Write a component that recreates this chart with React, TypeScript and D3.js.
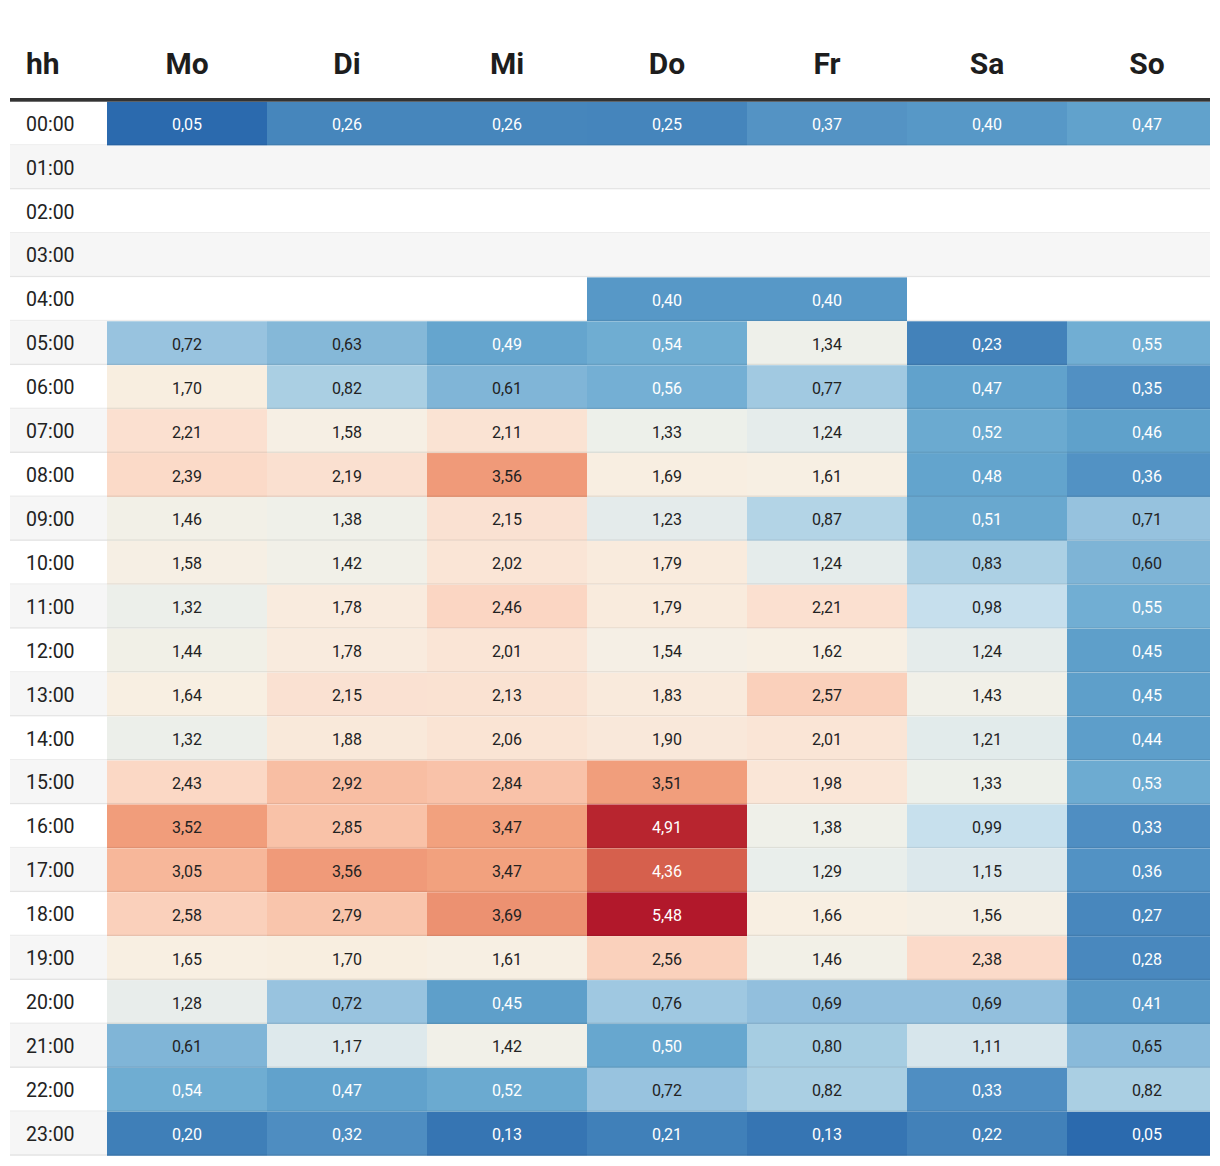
import React from "react";
import * as d3 from "d3";

const days = ["Mo", "Di", "Mi", "Do", "Fr", "Sa", "So"];
const hours = d3.range(24).map((h) => String(h).padStart(2, "0") + ":00");

const values: (number | null)[][] = [
  [0.05, 0.26, 0.26, 0.25, 0.37, 0.4, 0.47],
  [null, null, null, null, null, null, null],
  [null, null, null, null, null, null, null],
  [null, null, null, null, null, null, null],
  [null, null, null, 0.4, 0.4, null, null],
  [0.72, 0.63, 0.49, 0.54, 1.34, 0.23, 0.55],
  [1.7, 0.82, 0.61, 0.56, 0.77, 0.47, 0.35],
  [2.21, 1.58, 2.11, 1.33, 1.24, 0.52, 0.46],
  [2.39, 2.19, 3.56, 1.69, 1.61, 0.48, 0.36],
  [1.46, 1.38, 2.15, 1.23, 0.87, 0.51, 0.71],
  [1.58, 1.42, 2.02, 1.79, 1.24, 0.83, 0.6],
  [1.32, 1.78, 2.46, 1.79, 2.21, 0.98, 0.55],
  [1.44, 1.78, 2.01, 1.54, 1.62, 1.24, 0.45],
  [1.64, 2.15, 2.13, 1.83, 2.57, 1.43, 0.45],
  [1.32, 1.88, 2.06, 1.9, 2.01, 1.21, 0.44],
  [2.43, 2.92, 2.84, 3.51, 1.98, 1.33, 0.53],
  [3.52, 2.85, 3.47, 4.91, 1.38, 0.99, 0.33],
  [3.05, 3.56, 3.47, 4.36, 1.29, 1.15, 0.36],
  [2.58, 2.79, 3.69, 5.48, 1.66, 1.56, 0.27],
  [1.65, 1.7, 1.61, 2.56, 1.46, 2.38, 0.28],
  [1.28, 0.72, 0.45, 0.76, 0.69, 0.69, 0.41],
  [0.61, 1.17, 1.42, 0.5, 0.8, 1.11, 0.65],
  [0.54, 0.47, 0.52, 0.72, 0.82, 0.33, 0.82],
  [0.2, 0.32, 0.13, 0.21, 0.13, 0.22, 0.05],
];

const colorStops = [0.05, 0.2, 0.35, 0.46, 0.55, 0.63, 0.72, 0.82, 0.98, 1.15, 1.34, 1.65, 2.35, 3.45, 4.36, 4.9, 5.48];
const colorRange = [
  "#2b6aae",
  "#3f7fb8",
  "#5190c3",
  "#5fa1cb",
  "#71aed3",
  "#85b8d8",
  "#98c3df",
  "#aacfe3",
  "#c6dfed",
  "#dce8ec",
  "#eef0ea",
  "#f8efe2",
  "#fbdccb",
  "#f3a27f",
  "#d6604d",
  "#b8252f",
  "#b2182b",
];

const color = d3
  .scaleLinear<string>()
  .domain(colorStops)
  .range(colorRange)
  .interpolate(d3.interpolateLab)
  .clamp(true);

const fmt = (v: number) => v.toFixed(2).replace(".", ",");

export default function App() {
  const W = 1220;
  const H = 1166;
  const left = 10;
  const right = 1210;
  const top = 101.7;
  const rowH = 43.92;
  const x = d3.scaleBand<string>().domain(days).range([107, 1227]);
  const y = d3.scaleBand<string>().domain(hours).range([top, top + rowH * 24]);
  const font = "Roboto, 'Noto Sans', sans-serif";

  return (
    <svg
      width={W}
      height={H}
      style={{ position: "absolute", left: 0, top: 0, background: "#fff" }}
      fontFamily={font}
    >
      <defs>
        <clipPath id="tbl">
          <rect x={left} y={0} width={right - left} height={H} />
        </clipPath>
      </defs>
      {/* header */}
      <text x={26} y={74} fontSize={30} fontWeight={700} fill="#1d1d1d">
        hh
      </text>
      {days.map((d) => (
        <text
          key={d}
          x={x(d)! + x.bandwidth() / 2}
          y={74}
          fontSize={30}
          fontWeight={700}
          fill="#1d1d1d"
          textAnchor="middle"
        >
          {d}
        </text>
      ))}
      <g clipPath="url(#tbl)">
        {hours.map((h, i) => {
          const yy = y(h)!;
          return (
            <g key={h}>
              <rect
                x={left}
                y={yy}
                width={right - left}
                height={rowH}
                fill={i % 2 === 1 ? "#f6f6f6" : "#ffffff"}
              />
              {days.map((d, j) => {
                const v = values[i][j];
                if (v == null) return null;
                return (
                  <rect
                    key={d}
                    x={x(d)!}
                    y={yy}
                    width={x.bandwidth()}
                    height={rowH}
                    fill={color(v)}
                  />
                );
              })}
              <rect
                x={left}
                y={yy + rowH - 1.5}
                width={right - left}
                height={1.5}
                fill="rgba(0,0,0,0.07)"
              />
            </g>
          );
        })}
        {hours.map((h, i) => {
          const yy = y(h)! + rowH / 2;
          return (
            <g key={"t" + h}>
              <text x={26} y={yy + 7} fontSize={19.5} fill="#222">
                {h}
              </text>
              {days.map((d, j) => {
                const v = values[i][j];
                if (v == null) return null;
                const light = v < 0.58 || v > 4.0;
                return (
                  <text
                    key={d}
                    x={x(d)! + x.bandwidth() / 2}
                    y={yy + 6.5}
                    fontSize={16}
                    textAnchor="middle"
                    fill={light ? "#ffffff" : "#222222"}
                  >
                    {fmt(v)}
                  </text>
                );
              })}
            </g>
          );
        })}
      </g>
      <rect x={left} y={98} width={right - left} height={3.7} fill="#333333" />
    </svg>
  );
}
